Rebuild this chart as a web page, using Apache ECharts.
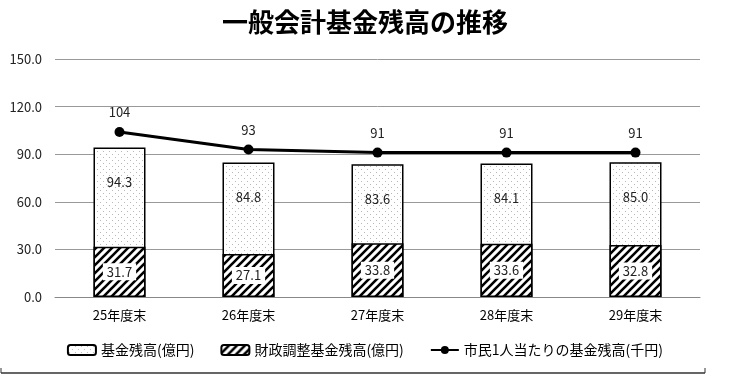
<!DOCTYPE html>
<html><head><meta charset="utf-8">
<script src="https://cdn.jsdelivr.net/npm/echarts@6/dist/echarts.min.js"></script>
<style>html,body{margin:0;padding:0;background:#fff}#c{width:730px;height:387px}</style>
</head><body><div id="c"></div>
<script>
var categories = ['25年度末','26年度末','27年度末','28年度末','29年度末'];
var fundTotal = [94.3, 84.8, 83.6, 84.1, 85.0];
var fiscalFund = [31.7, 27.1, 33.8, 33.6, 32.8];
var perCapita = [104, 93, 91, 91, 91];
var yTicks = [0, 30, 60, 90, 120, 150];

function dotPattern(){
  var c = document.createElement('canvas'); c.width = 6; c.height = 6;
  var g = c.getContext('2d'); g.fillStyle = '#fff'; g.fillRect(0,0,6,6);
  g.fillStyle = '#b8b8b8'; g.fillRect(1,1,1,1); g.fillRect(4,4,1,1);
  return c;
}
function hatchPattern(){
  var s = 8;
  var c = document.createElement('canvas'); c.width = s; c.height = s;
  var g = c.getContext('2d'); g.fillStyle = '#fff'; g.fillRect(0,0,s,s);
  g.strokeStyle = '#000'; g.lineWidth = 2.6;
  g.beginPath();
  g.moveTo(-2, s+2); g.lineTo(s+2, -2);
  g.moveTo(-2, 2); g.lineTo(2, -2);
  g.moveTo(s-2, s+2); g.lineTo(s+2, s-2);
  g.stroke();
  return c;
}
var font = '"Noto Sans CJK JP", "Noto Sans", sans-serif';
var chart = echarts.init(document.getElementById('c'));
chart.setOption({
  animation: false,
  backgroundColor: '#fff',
  title: { text: '一般会計基金残高の推移', left: 'center', top: 4,
    textStyle: { fontFamily: font, fontSize: 26, fontWeight: 'bold', color: '#000' } },
  grid: { left: 55, right: 30, top: 59, bottom: 90 },
  legend: {
    bottom: 25, left: 'center', itemGap: 26, itemWidth: 28, itemHeight: 10,
    textStyle: { fontFamily: font, fontSize: 14, color: '#000' },
    data: ['基金残高(億円)', '財政調整基金残高(億円)', '市民1人当たりの基金残高(千円)']
  },
  xAxis: {
    type: 'category', data: categories,
    axisLine: { lineStyle: { color: '#888' } },
    axisTick: { lineStyle: { color: '#888' }, length: 5 },
    axisLabel: { fontFamily: font, fontSize: 13, color: '#000', margin: 12 }
  },
  yAxis: {
    type: 'value', min: yTicks[0], max: yTicks[yTicks.length-1], interval: 30,
    axisLine: { show: false }, axisTick: { show: false },
    splitLine: { lineStyle: { color: '#999' } },
    axisLabel: { fontFamily: font, fontSize: 13, color: '#222', margin: 13,
      formatter: function(v){ return v.toFixed(1); } }
  },
  series: [
    { name: '基金残高(億円)', type: 'bar', data: fundTotal, barWidth: 52, barGap: '-100%',
      itemStyle: { color: { image: dotPattern(), repeat: 'repeat' }, borderColor: '#000', borderWidth: 1.5 },
      label: { show: true, position: 'insideTop', distance: 28, fontFamily: font, fontSize: 13, color: '#222',
        formatter: function(p){ return p.value.toFixed(1); } },
      z: 2 },
    { name: '財政調整基金残高(億円)', type: 'bar', data: fiscalFund, barWidth: 52, barGap: '-100%',
      itemStyle: { color: { image: hatchPattern(), repeat: 'repeat' }, borderColor: '#000', borderWidth: 1.5 },
      label: { show: true, position: 'inside', fontFamily: font, fontSize: 13, color: '#222',
        backgroundColor: '#fff', padding: [2,4],
        formatter: function(p){ return p.value.toFixed(1); } },
      z: 3 },
    { name: '市民1人当たりの基金残高(千円)', type: 'line', data: perCapita,
      symbol: 'circle', symbolSize: 10,
      lineStyle: { color: '#000', width: 3 }, itemStyle: { color: '#000' },
      label: { show: true, position: 'top', distance: 8, fontFamily: font, fontSize: 13, color: '#222' },
      z: 5 }
  ],
  graphic: [
    { type: 'line', shape: { x1: 1, y1: 373, x2: 705, y2: 373 }, style: { stroke: '#333', lineWidth: 1.5 } },
    { type: 'line', shape: { x1: 1, y1: 368, x2: 1, y2: 373 }, style: { stroke: '#333', lineWidth: 1 } },
    { type: 'line', shape: { x1: 705, y1: 368, x2: 705, y2: 373 }, style: { stroke: '#333', lineWidth: 1 } }
  ]
});
</script></body></html>
